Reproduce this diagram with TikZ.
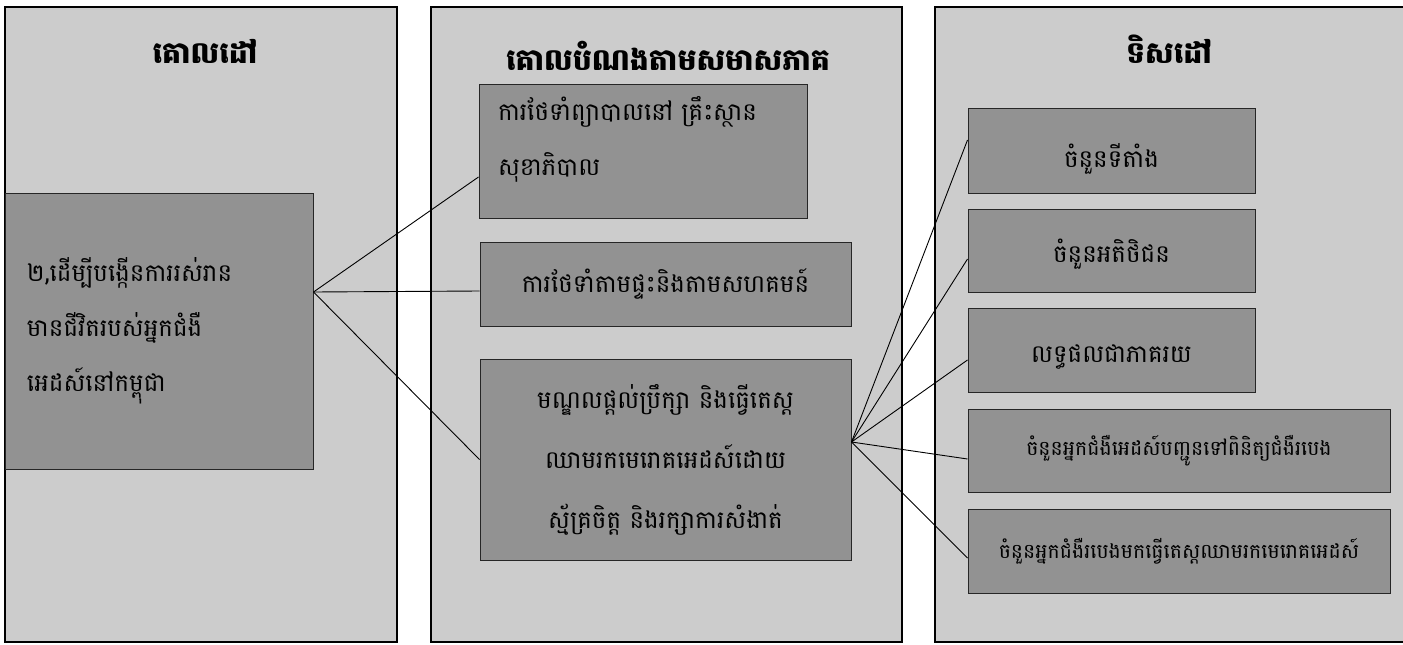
\documentclass[tikz,border=0pt]{standalone}
\usepackage{fontspec}
\newfontfamily\khmer[Script=Khmer]{Battambang}

\definecolor{panelgray}{RGB}{204,204,204}
\definecolor{boxgray}{RGB}{146,146,146}

\tikzset{
  panel/.style={draw=black, line width=1.3pt, fill=panelgray},
  head/.style={anchor=base, font=\khmer\bfseries\fontsize{30}{36}\selectfont},
  box/.style={draw=black!85, line width=1pt, fill=boxgray, inner sep=0pt,
    font=\khmer\fontsize{24.5}{55}\selectfont},
  smallbox/.style={box, font=\khmer\fontsize{20.5}{24}\selectfont},
  drop/.style={text height=#1, text depth=0pt},
  link/.style={line width=0.9pt},
}

\begin{document}
\begin{tikzpicture}[x=1pt,y=-1pt]
  \useasboundingbox (0,0) rectangle (1403,645);
  \fill[white] (0,0) rectangle (1403,645);

  % column panels
  \draw[panel] (5,7) rectangle (397,642);
  \draw[panel] (431,7) rectangle (902,642);
  \draw[panel] (935,7) rectangle (1410,642);

  % headings
  \node[head] (hgoal) at (205,63) {គោលដៅ};
  \node[head] (hobj) at (668,70) {គោលបំណងតាមសមាសភាគ};
  \node[head] (htarget) at (1169,63) {ទិសដៅ};

  % goal
  \node[box, minimum width=308pt, minimum height=276pt, text width=264pt, align=left]
    (goal) at (159,331) {២,ដើម្បីបង្កើនការរស់រាន\\មានជីវិតរបស់អ្នកជំងឺ\\អេដស៍នៅកម្ពុជា};

  % objectives by component
  \node[box, minimum width=328pt, minimum height=134pt, text width=290pt, align=left,
    text depth=86pt]
    (care) at (643,151) {ការថែទាំព្យាបាលនៅ គ្រឹះស្ថាន\\សុខាភិបាល};
  \node[box, drop=16pt, minimum width=371pt, minimum height=84pt]
    (home) at (665.5,284) {ការថែទាំតាមផ្ទះនិងតាមសហគមន៍};
  \node[box, minimum width=371pt, minimum height=201pt, align=center,
    font=\khmer\fontsize{24.5}{60}\selectfont]
    (vct) at (665.5,459.5) {មណ្ឌលផ្តល់ប្រឹក្សា និងធ្វើតេស្ត\\ឈាមរកមេរោគអេដស៍ដោយ\\ស្ម័គ្រចិត្ត និងរក្សាការសំងាត់};

  % targets
  \node[box, drop=33pt, minimum width=287pt, minimum height=85pt] (sites) at (1111.5,150.5) {ចំនួនទីតាំង};
  \node[box, drop=23pt, minimum width=287pt, minimum height=83pt] (clients) at (1111.5,250.5) {ចំនួនអតិថិជន};
  \node[box, drop=24pt, minimum width=287pt, minimum height=84pt] (percent) at (1111.5,350) {លទ្ធផលជាភាគរយ};
  \node[smallbox, minimum width=422pt, minimum height=83pt] (refer) at (1179,450.5) {ចំនួនអ្នកជំងឺអេដស៍បញ្ជូនទៅពិនិត្យជំងឺរបេង};
  \node[smallbox, minimum width=422pt, minimum height=84pt] (tbtest) at (1179,551) {ចំនួនអ្នកជំងឺរបេងមកធ្វើតេស្តឈាមរកមេរោគអេដស៍};

  % connectors
  \coordinate (goalout) at ([yshift=39pt]goal.east);
  \coordinate (vctout) at ([yshift=17.5pt]vct.east);
  \draw[link] (goalout) -- ([yshift=-26pt]care.west);
  \draw[link] (goalout) -- ([yshift=-7pt]home.west);
  \draw[link] (goalout) -- (vct.west);
  \foreach \n/\s in {sites/10.5, clients/-8.5, percent/-10, refer/-8.5, tbtest/-7}
    \draw[link] (vctout) -- ([yshift=\s pt]\n.west);

\end{tikzpicture}
\end{document}
